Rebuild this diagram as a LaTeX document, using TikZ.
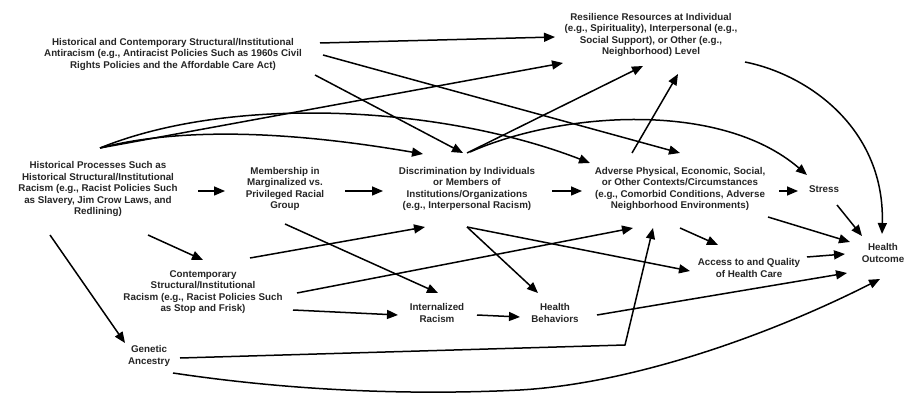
\documentclass[tikz,border=0pt]{standalone}
\usepackage{fontspec}
\setmainfont{Liberation Sans}
\usetikzlibrary{arrows.meta,calc}
\begin{document}
\begin{tikzpicture}[x=1pt,y=-1pt,
  lab/.style={font=\fontsize{9.8}{11.5}\selectfont\bfseries, align=center, text=black!85, inner sep=0pt},
  arr/.style={line width=1.5pt, -{Triangle[length=11pt,width=9pt]}}]
\useasboundingbox[fill=white] (0,0) rectangle (907,395);

\node[lab] (anti) at (173,54) {Historical and Contemporary Structural/Institutional\\Antiracism (e.g., Antiracist Policies Such as 1960s Civil\\Rights Policies and the Affordable Care Act)};
\node[lab] (resil) at (651,35) {Resilience Resources at Individual\\(e.g., Spirituality), Interpersonal (e.g.,\\Social Support), or Other (e.g.,\\Neighborhood) Level};
\node[lab] (hist) at (98,189) {Historical Processes Such as\\Historical Structural/Institutional\\Racism (e.g., Racist Policies Such\\as Slavery, Jim Crow Laws, and\\Redlining)};
\node[lab] (memb) at (285,189) {Membership in\\Marginalized vs.\\Privileged Racial\\Group};
\node[lab] (disc) at (467,189) {Discrimination by Individuals\\or Members of\\Institutions/Organizations\\(e.g., Interpersonal Racism)};
\node[lab] (adv) at (680,189) {Adverse Physical, Economic, Social,\\or Other Contexts/Circumstances\\(e.g., Comorbid Conditions, Adverse\\Neighborhood Environments)};
\node[lab] (stress) at (824,189) {Stress};
\node[lab] (health) at (883,253) {Health\\Outcome};
\node[lab] (access) at (749,268) {Access to and Quality\\of Health Care};
\node[lab] (contemp) at (203,292) {Contemporary\\Structural/Institutional\\Racism (e.g., Racist Policies Such\\as Stop and Frisk)};
\node[lab] (intern) at (437,313) {Internalized\\Racism};
\node[lab] (behav) at (555,313) {Health\\Behaviors};
\node[lab] (genetic) at (149,356) {Genetic\\Ancestry};

% from antiracism
\draw[arr] ($(anti)+(147,-11)$) -- ($(resil)+(-96,2)$);
\draw[arr] ($(anti)+(150,1)$) -- ($(adv)+(0,-36)$);
\draw[arr] ($(anti)+(142,21)$) -- ($(disc)+(-4,-36)$);
% from historical processes
\draw[arr] ($(hist)+(2,-41)$) -- ($(resil)+(-88,28)$);
\draw[arr] ($(hist)+(2,-41)$) .. controls (230,95) and (440,105) .. ($(adv)+(-90,-26)$);
\draw[arr] ($(hist)+(2,-41)$) .. controls (200,122) and (330,138) .. ($(disc)+(-44,-35)$);
\draw[arr] ($(hist)+(100,2)$) -- ($(memb)+(-60,2)$);
\draw[arr] ($(hist)+(-48,46)$) -- ($(genetic)+(-24,-13)$);
\draw[arr] ($(hist)+(50,46)$) -- ($(contemp)+(0,-32)$);
% membership
\draw[arr] ($(memb)+(60,2)$) -- ($(disc)+(-84,2)$);
\draw[arr] ($(memb)+(0,35)$) -- ($(intern)+(1,-20)$);
% discrimination
\draw[arr] ($(disc)+(0,-36)$) -- ($(resil)+(-8,31)$);
\draw[arr] ($(disc)+(3,-37)$) .. controls (560,112) and (720,100) .. ($(stress)+(-17,-14)$);
\draw[arr] ($(disc)+(85,2)$) -- ($(adv)+(-98,2)$);
\draw[arr] ($(disc)+(0,38)$) -- ($(access)+(-59,3)$);
\draw[arr] ($(disc)+(0,38)$) -- ($(behav)+(-17,-20)$);
% adverse
\draw[arr] ($(adv)+(-48,-36)$) -- ($(resil)+(27,39)$);
\draw[arr] ($(adv)+(99,2)$) -- ($(stress)+(-26,2)$);
\draw[arr] ($(adv)+(0,39)$) -- ($(access)+(-31,-23)$);
\draw[arr] ($(adv)+(88,28)$) -- ($(health)+(-33,-11)$);
% resilience, stress, access
\draw[arr] ($(resil)+(94,27)$) .. controls (810,75) and (885,130) .. ($(health)+(-1,-19)$);
\draw[arr] ($(stress)+(13,16)$) -- ($(health)+(-21,-17)$);
\draw[arr] ($(access)+(58,-11)$) -- ($(health)+(-38,1)$);
% contemporary
\draw[arr] ($(contemp)+(47,-34)$) -- ($(disc)+(-42,38)$);
\draw[arr] ($(contemp)+(94,1)$) -- ($(adv)+(-47,39)$);
\draw[arr] ($(contemp)+(90,18)$) -- ($(intern)+(-39,2)$);
% internalized, behaviors
\draw[arr] ($(intern)+(40,2)$) -- ($(behav)+(-35,4)$);
\draw[arr] ($(behav)+(42,2)$) -- ($(health)+(-36,20)$);
% genetic
\draw[arr] ($(genetic)+(31,2)$) -- (625,345) -- ($(adv)+(-27,39)$);
\draw[arr] ($(genetic)+(24,17)$) .. controls (300,392) and (420,395) .. (520,390) .. controls (640,383) and (780,330) .. ($(health)+(-3,26)$);
\end{tikzpicture}
\end{document}
